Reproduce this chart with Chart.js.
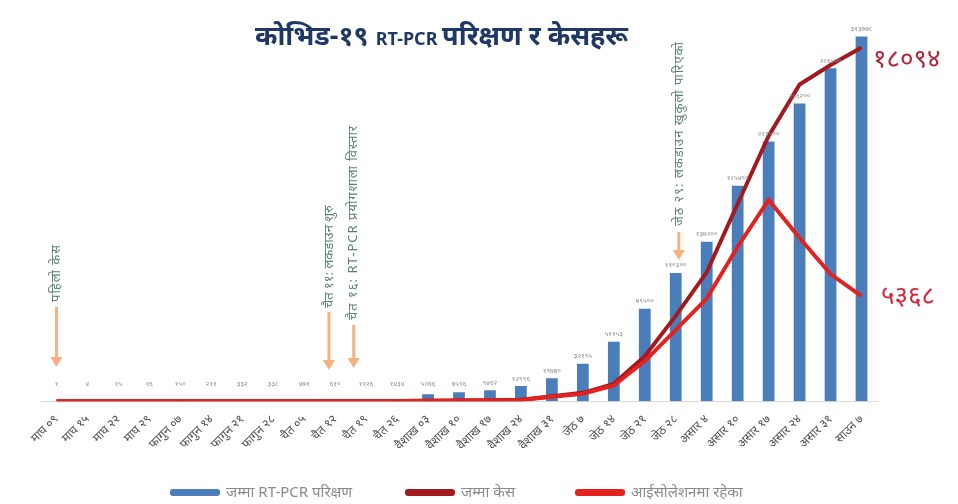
<!DOCTYPE html>
<html>
<head>
<meta charset="utf-8">
<script src="https://cdn.jsdelivr.net/npm/chart.js@4"></script>
<style>
  body { margin: 0; background: #fff; }
  #wrap { width: 958px; height: 504px; }
</style>
</head>
<body>
<div id="wrap"><canvas id="covidChart"></canvas></div>
<script>
// x-axis dates (Nepali calendar)
const dates = ['माघ ०९', 'माघ १५', 'माघ २२', 'माघ २९', 'फागुन ०७', 'फागुन १४', 'फागुन २१', 'फागुन २८',
  'चैत ०५', 'चैत १२', 'चैत १९', 'चैत २६', 'वैशाख ०३', 'वैशाख १०', 'वैशाख १७', 'वैशाख २४', 'वैशाख ३१',
  'जेठ ७', 'जेठ १४', 'जेठ २१', 'जेठ २८', 'असार ४', 'असार १०', 'असार १७', 'असार २४', 'असार ३१', 'साउन ७'];

// cumulative RT-PCR tests
const tests = [1, 4, 15, 16, 150, 211, 332, 338, 471, 610, 1126, 1434, 5876, 7596, 9462, 12996, 19770,
  32195, 51153, 79500, 110300, 137200, 185400, 223500, 256200, 286400, 313778];

// total cases
const cases = [1, 1, 1, 1, 1, 1, 1, 1, 1, 2, 5, 9, 16, 31, 52, 75, 249,
  427, 886, 2300, 4364, 6591, 10099, 13564, 16200, 17200, 18094];

// cases in isolation
const isolation = [1, 1, 1, 1, 1, 1, 1, 1, 1, 2, 4, 8, 15, 28, 40, 55, 220,
  380, 800, 2050, 3650, 5250, 7900, 10300, 8350, 6500, 5368];

// notes with arrows: [category position, text]
const notes = [
  [0, 'पहिलो केस'],
  [8.8, 'चैत ११: लकडाउन शुरु'],
  [9.6, 'चैत १६: RT-PCR प्रयोगशाला विस्तार'],
  [20.1, 'जेठ २९: लकडाउन खुकुलो पारिएको']
];

const devDigits = '०१२३४५६७८९';
function toDev(n) {
  return String(n).replace(/[0-9]/g, d => devDigits[+d]);
}

const FONT = "'Noto Sans', 'DejaVu Sans', sans-serif";

// extra drawing: title, bar labels, arrows, end values, legend
const extras = {
  id: 'extras',
  afterDatasetsDraw(chart) {
    const c = chart.ctx;
    const x = chart.scales.x;
    const area = chart.chartArea;

    // bar value labels
    const barMeta = chart.getDatasetMeta(0);
    c.save();
    c.font = '7px ' + FONT;
    c.fillStyle = '#8c8c8c';
    c.textAlign = 'center';
    c.textBaseline = 'bottom';
    barMeta.data.forEach((bar, i) => {
      const y = Math.min(bar.y - 4, area.bottom - 14);
      c.fillText(toDev(tests[i]), bar.x, y);
    });
    c.restore();

    // arrows and notes
    const arrowSpec = [[307, 367, 302], [312, 370, 308], [325, 368, 320], [232, 260, 226]];
    notes.forEach((n, k) => {
      const px = x.getPixelForValue(n[0]);
      const [y0, y1, ty] = arrowSpec[k];
      c.save();
      c.strokeStyle = '#f4b183';
      c.fillStyle = '#f4b183';
      c.lineWidth = 3;
      c.beginPath();
      c.moveTo(px, y0);
      c.lineTo(px, y1 - 8);
      c.stroke();
      c.beginPath();
      c.moveTo(px - 6, y1 - 10);
      c.lineTo(px + 6, y1 - 10);
      c.lineTo(px, y1);
      c.closePath();
      c.fill();
      c.translate(px, ty);
      c.rotate(-Math.PI / 2);
      c.font = '13px ' + FONT;
      c.letterSpacing = k === 1 ? '0px' : '1px';
      c.fillStyle = '#5b8078';
      c.textAlign = 'left';
      c.textBaseline = 'middle';
      c.fillText(n[1], 0, 0);
      c.restore();
    });

    // end values
    c.save();
    c.font = '26px ' + FONT;
    c.textAlign = 'left';
    c.textBaseline = 'middle';
    c.fillStyle = '#b3253c';
    c.fillText(toDev(cases[cases.length - 1]), 873, 60);
    c.fillStyle = '#d0283c';
    c.fillText(toDev(isolation[isolation.length - 1]), 881, 297);
    c.restore();

    // title, drawn in parts (RT-PCR is smaller)
    const parts = [['कोभिड-१९ ', 27], ['RT-PCR ', 18], ['परिक्षण र केसहरू', 27]];
    c.save();
    c.fillStyle = '#1f3864';
    c.textAlign = 'left';
    c.textBaseline = 'alphabetic';
    let tx = 255;
    parts.forEach(p => {
      c.font = 'bold ' + p[1] + 'px ' + FONT;
      c.fillText(p[0], tx, 45);
      tx += c.measureText(p[0]).width;
    });
    c.restore();

    // legend
    const legendX = [170, 405, 575];
    c.save();
    c.font = '15px ' + FONT;
    c.textAlign = 'left';
    c.textBaseline = 'middle';
    chart.data.datasets.forEach((ds, i) => {
      const lx = legendX[i];
      c.fillStyle = ds.backgroundColor;
      c.beginPath();
      c.roundRect(lx, 489, 50, 7, 3);
      c.fill();
      c.fillStyle = '#8a8a8a';
      c.fillText(ds.label, lx + 56, 493);
    });
    c.restore();
  }
};

const ctx = document.getElementById('covidChart').getContext('2d');

new Chart(ctx, {
  data: {
    labels: dates,
    datasets: [
      {
        type: 'bar',
        label: 'जम्मा RT-PCR परिक्षण',
        data: tests,
        backgroundColor: '#4a7ebb',
        borderWidth: 0,
        barPercentage: 0.38,
        categoryPercentage: 1,
        yAxisID: 'y',
        order: 3
      },
      {
        type: 'line',
        label: 'जम्मा केस',
        data: cases,
        borderColor: '#a31a1e',
        backgroundColor: '#a31a1e',
        borderWidth: 4,
        pointRadius: 0,
        tension: 0,
        yAxisID: 'y1',
        order: 2
      },
      {
        type: 'line',
        label: 'आईसोलेशनमा रहेका',
        data: isolation,
        borderColor: '#e3211f',
        backgroundColor: '#e3211f',
        borderWidth: 4,
        pointRadius: 0,
        tension: 0,
        yAxisID: 'y1',
        order: 1
      }
    ]
  },
  options: {
    responsive: true,
    maintainAspectRatio: false,
    animation: false,
    layout: { padding: { top: 20, left: 41, right: 81, bottom: 48 } },
    plugins: {
      legend: { display: false },
      title: { display: false },
      tooltip: { enabled: false }
    },
    scales: {
      x: {
        grid: { display: false },
        border: { color: '#d9d9d9' },
        ticks: {
          minRotation: 45,
          maxRotation: 45,
          color: '#505050',
          font: { family: FONT, size: 12 },
          autoSkip: false
        }
      },
      y: { display: false, min: 0, max: 328000 },
      y1: { display: false, min: 0, max: 19500 }
    }
  },
  plugins: [extras]
});
</script>
</body>
</html>
